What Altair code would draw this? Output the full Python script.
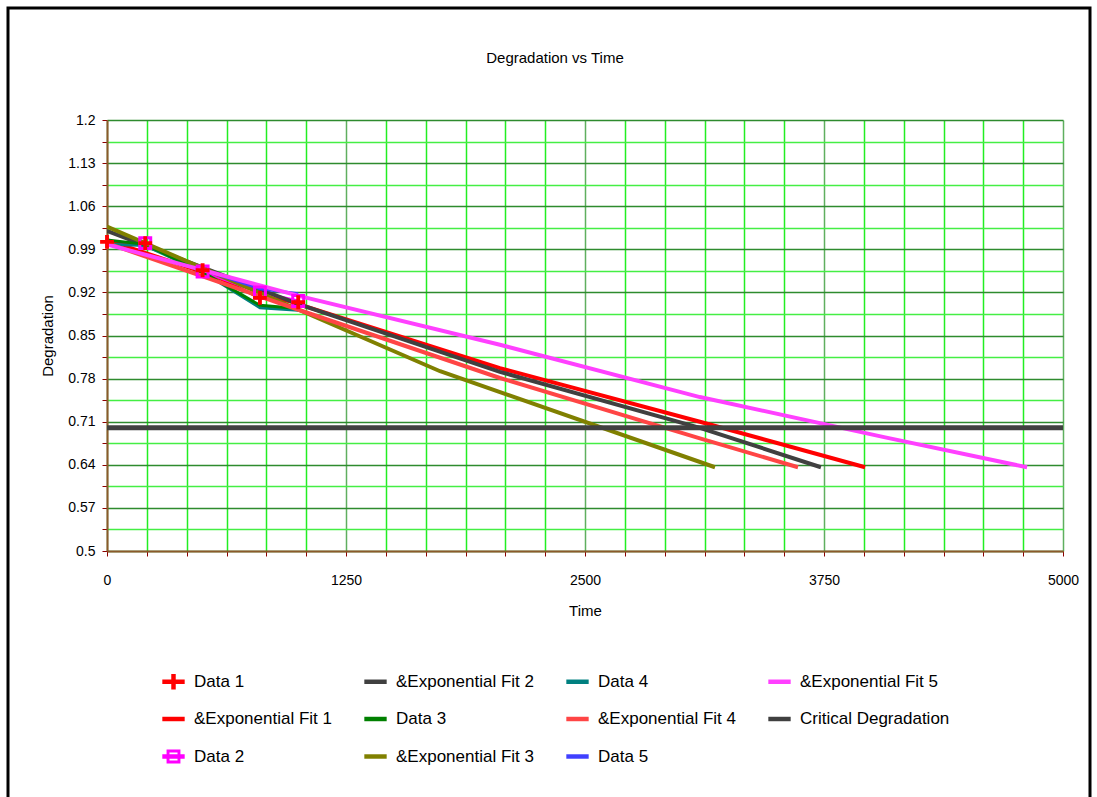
import altair as alt
import pandas as pd

# ---- data ----
d1_t = [0, 200, 500, 800, 1000]
d1_v = [1.002, 1.000, 0.956, 0.911, 0.904]
d2_t = [200, 500, 800, 1000]
d2_v = [1.000, 0.954, 0.920, 0.906]
d3_t = [0, 200, 500, 800, 1000]
d3_v = [1.005, 0.998, 0.953, 0.899, 0.894]
d4_t = [0, 200, 500, 800, 1000]
d4_v = [0.998, 0.996, 0.953, 0.895, 0.891]
d5_t = [500, 800, 1000]
d5_v = [0.957, 0.926, 0.918]

f1_t = [0, 1009, 2055, 3101, 3965]
f1_v = [1.005, 0.900, 0.797, 0.710, 0.636]
f2_t = [0, 1009, 2055, 3101, 3734]
f2_v = [1.020, 0.900, 0.791, 0.700, 0.636]
f3_t = [0, 1742, 3180]
f3_v = [1.027, 0.792, 0.636]
f4_t = [0, 1009, 2055, 3101, 3614]
f4_v = [1.000, 0.891, 0.781, 0.683, 0.636]
f5_t = [0, 1009, 2055, 3101, 4064, 4812]
f5_v = [0.998, 0.914, 0.835, 0.750, 0.685, 0.636]
crit_t = [0, 5000]
crit_v = [0.70, 0.70]

series = [
    ("Data 1", d1_t, d1_v),
    ("&Exponential Fit 1", f1_t, f1_v),
    ("Data 2", d2_t, d2_v),
    ("&Exponential Fit 2", f2_t, f2_v),
    ("Data 3", d3_t, d3_v),
    ("&Exponential Fit 3", f3_t, f3_v),
    ("Data 4", d4_t, d4_v),
    ("&Exponential Fit 4", f4_t, f4_v),
    ("Data 5", d5_t, d5_v),
    ("&Exponential Fit 5", f5_t, f5_v),
    ("Critical Degradation", crit_t, crit_v),
]
names = [s[0] for s in series]
draw_order = [
    "Data 1", "&Exponential Fit 1", "Data 2", "&Exponential Fit 2", "Data 4",
    "Data 3", "&Exponential Fit 3", "&Exponential Fit 4", "Data 5",
    "&Exponential Fit 5", "Critical Degradation",
]
colors = {
    "Data 1": "#FF0000",
    "&Exponential Fit 1": "#FF0000",
    "Data 2": "#FF00FF",
    "&Exponential Fit 2": "#404040",
    "Data 3": "#008000",
    "&Exponential Fit 3": "#808000",
    "Data 4": "#008080",
    "&Exponential Fit 4": "#FF4545",
    "Data 5": "#4040FF",
    "&Exponential Fit 5": "#FF40FF",
    "Critical Degradation": "#404040",
}
widths = {
    "Data 1": 3, "Data 2": 3, "Data 3": 3, "Data 4": 3, "Data 5": 3,
    "&Exponential Fit 1": 4, "&Exponential Fit 2": 4, "&Exponential Fit 3": 4,
    "&Exponential Fit 4": 4, "&Exponential Fit 5": 4, "Critical Degradation": 5,
}

# legend symbol outlines (unit square -1..1)
LINE_SYM = "M-1,-0.2L1,-0.2L1,0.2L-1,0.2Z"
PLUS_LINE_SYM = ("M-1,-0.2L-0.2,-0.2L-0.2,-0.7L0.2,-0.7L0.2,-0.2L1,-0.2L1,0.2"
                 "L0.2,0.2L0.2,0.7L-0.2,0.7L-0.2,0.2L-1,0.2Z")
SQUARE_LINE_SYM = ("M-0.62,-0.62L0.62,-0.62L0.62,0.62L-0.62,0.62Z"
                   "M-0.36,-0.36L-0.36,0.36L0.36,0.36L0.36,-0.36Z"
                   "M-1,-0.2L1,-0.2L1,0.2L-1,0.2Z")
PLUS_MARK = ("M-1,-0.28L-0.28,-0.28L-0.28,-1L0.28,-1L0.28,-0.28L1,-0.28L1,0.28"
             "L0.28,0.28L0.28,1L-0.28,1L-0.28,0.28L-1,0.28Z")
shapes = {n: LINE_SYM for n in names}
shapes["Data 1"] = PLUS_LINE_SYM
shapes["Data 2"] = SQUARE_LINE_SYM

rows = []
for name, ts, vs in series:
    for t, v in zip(ts, vs):
        rows.append({"series": name, "t": t, "v": v})
df = pd.DataFrame(rows)

FONT = "Liberation Sans"

x_vals = [i * 5000 / 24 for i in range(25)]
y_vals = [round(0.5 + 0.035 * i, 3) for i in range(21)]

color_scale = alt.Scale(domain=names, range=[colors[n] for n in names])
shape_scale = alt.Scale(domain=names, range=[shapes[n] for n in names])

legend = alt.Legend(
    title=None, orient="none", legendX=55, legendY=550, columns=4,
    gridAlign="all", columnPadding=20, rowPadding=17.5, padding=0,
    symbolSize=500, symbolStrokeWidth=0, labelFont=FONT, labelFontSize=17,
    labelColor="black", labelOffset=9, labelLimit=300,
)

xenc = alt.X(
    "t:Q",
    scale=alt.Scale(domain=[0, 5000], nice=False, zero=False),
    axis=alt.Axis(
        values=x_vals, format="d",
        labelExpr="abs(datum.value/1250 - round(datum.value/1250)) < 1e-6 ? format(datum.value, 'd') : ''",
        labelFlush=False, labelOverlap=False, labelFont=FONT, labelFontSize=14,
        labelColor="black", labelPadding=17,
        tickColor="#8B0000", tickSize=5, domainColor="#8B5A2B", domainWidth=2,
        grid=True,
        gridColor={"condition": {"test": "abs(datum.value/1250 - round(datum.value/1250)) < 1e-6", "value": "#5FAF5F"}, "value": "#22EE22"},
        gridWidth=1.5,
        title="Time", titleFont=FONT, titleFontSize=15, titleFontWeight="normal",
        titleColor="black", titlePadding=16,
    ),
)
yenc = alt.Y(
    "v:Q",
    scale=alt.Scale(domain=[0.5, 1.2], nice=False, zero=False),
    axis=alt.Axis(
        values=y_vals,
        labelExpr="(round(datum.value*1000) - 500) % 70 === 0 ? format(datum.value, '~g') : ''",
        labelFlush=False, labelOverlap=False, labelFont=FONT, labelFontSize=14,
        labelColor="black", labelPadding=7,
        tickColor="#8B0000", tickSize=5, domainColor="#8B5A2B", domainWidth=2,
        grid=True,
        gridColor={"condition": {"test": "(round(datum.value*1000) - 500) % 70 === 0", "value": "#2E8B2E"}, "value": "#44EE44"},
        gridWidth=1.5,
        title="Degradation", titleFont=FONT, titleFontSize=15, titleFontWeight="normal",
        titleColor="black", titlePadding=12,
    ),
)

color_enc = alt.Color("series:N", scale=color_scale, legend=legend)

base = alt.Chart(df)
layers = []
for name in draw_order:
    layers.append(
        base.transform_filter(alt.datum.series == name)
        .mark_line(strokeWidth=widths[name], clip=True)
        .encode(x=xenc, y=yenc, order="t:Q", color=color_enc)
    )

# markers
layers.append(
    base.transform_filter(alt.datum.series == "Data 2")
    .mark_point(shape="square", filled=False, size=120, strokeWidth=3, opacity=1)
    .encode(x=xenc, y=yenc, color=color_enc)
)
layers.append(
    base.transform_filter(alt.datum.series == "Data 1")
    .mark_point(shape=PLUS_MARK, filled=True, size=190, opacity=1)
    .encode(x=xenc, y=yenc, color=color_enc)
)
# legend symbol carrier (draws nothing)
layers.append(
    base.transform_filter(alt.datum.series == "__none__")
    .mark_point(filled=True, opacity=1)
    .encode(x=xenc, y=yenc, color=color_enc,
            shape=alt.Shape("series:N", scale=shape_scale, legend=legend))
)

one = pd.DataFrame({"label": ["Degradation vs Time"]})
title_mark = alt.Chart(one).mark_text(
    font=FONT, fontSize=15, color="black", align="center", baseline="alphabetic"
).encode(text="label:N", x=alt.value(448), y=alt.value(-57))
layers.append(title_mark)

frame = alt.Chart(one).mark_rect(
    fill=None, stroke="black", strokeWidth=3, clip=False
).encode(x=alt.value(-99), x2=alt.value(983), y=alt.value(-112), y2=alt.value(700))
layers.append(frame)

chart = alt.layer(*layers).properties(
    width=956, height=431,
    padding={"left": 107, "top": 120, "right": 34, "bottom": 246},
    autosize=alt.AutoSizeParams(type="none"),
    background="white",
).configure_view(stroke=None)

chart.save("out.html", embed_options={"renderer": "svg", "actions": False})
